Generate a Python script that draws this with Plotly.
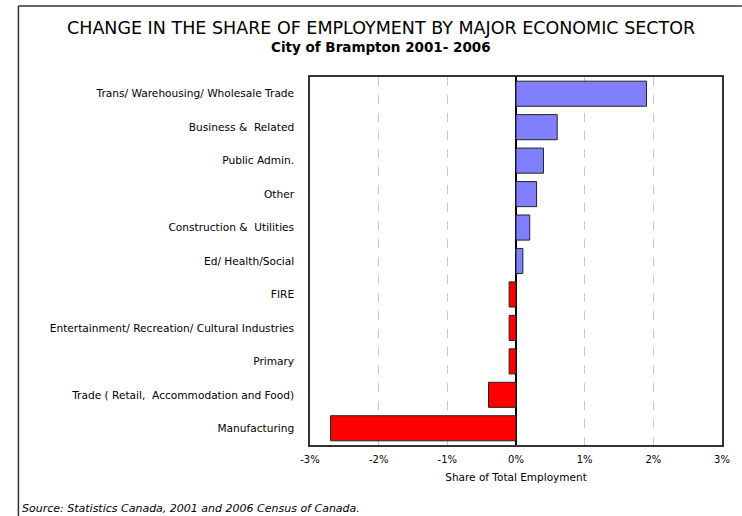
import plotly.graph_objects as go

# Sectors, top to bottom, and the change in share of total employment (percentage points)
sectors = [
    "Trans/ Warehousing/ Wholesale Trade",
    "Business &  Related",
    "Public Admin.",
    "Other",
    "Construction &  Utilities",
    "Ed/ Health/Social",
    "FIRE",
    "Entertainment/ Recreation/ Cultural Industries",
    "Primary",
    "Trade ( Retail,  Accommodation and Food)",
    "Manufacturing",
]
change_pct = [1.9, 0.6, 0.4, 0.3, 0.2, 0.1, -0.1, -0.1, -0.1, -0.4, -2.7]
tick_vals = [-3, -2, -1, 0, 1, 2, 3]
tick_text = ["-3%", "-2%", "-1%", "0%", "1%", "2%", "3%"]

W, H = 742, 516
ML, MR, MT, MB = 310, 18, 77, 71
PW, PH = W - ML - MR, H - MT - MB


def px(x):
    return (x - ML) / PW


def py(y):
    return (H - MB - y) / PH


FONT = "'DejaVu Sans', sans-serif"
colors = ["#8080FF" if v >= 0 else "#FF0000" for v in change_pct]

fig = go.Figure(
    go.Bar(
        x=change_pct,
        y=sectors,
        orientation="h",
        marker=dict(color=colors, line=dict(color="#222222", width=1)),
        width=0.75,
        hoverinfo="x+y",
    )
)

fig.update_layout(
    width=W,
    height=H,
    margin=dict(l=ML, r=MR, t=MT, b=MB, pad=0),
    paper_bgcolor="white",
    plot_bgcolor="white",
    showlegend=False,
    font=dict(family=FONT, color="black", size=10),
    xaxis=dict(
        range=[-3, 3],
        tickvals=tick_vals,
        ticktext=tick_text,
        showgrid=True,
        gridcolor="#C8C8C8",
        griddash="dash",
        gridwidth=1,
        zeroline=True,
        zerolinecolor="black",
        zerolinewidth=1.5,
        showline=True,
        linecolor="#333333",
        linewidth=1.5,
        mirror=True,
        ticks="outside",
        ticklen=4,
        tickcolor="rgba(0,0,0,0)",
        tickfont=dict(size=10),
        title=dict(text="Share of Total Employment", font=dict(size=10.5), standoff=10),
    ),
    yaxis=dict(
        categoryorder="array",
        categoryarray=sectors[::-1],
        range=[-0.5, len(sectors) - 0.5],
        showgrid=False,
        showline=True,
        linecolor="#333333",
        linewidth=1.5,
        mirror=True,
        ticks="outside",
        ticklen=12,
        tickcolor="rgba(0,0,0,0)",
        tickfont=dict(size=10.6),
    ),
    shapes=[
        # outer page frame: top and left edges
        dict(type="line", xref="paper", yref="paper",
             x0=px(17), x1=px(W + 2), y0=py(6), y1=py(6),
             line=dict(color="#333333", width=1.5)),
        dict(type="line", xref="paper", yref="paper",
             x0=px(17), x1=px(17), y0=py(6), y1=py(H + 2),
             line=dict(color="#333333", width=1.5)),
    ],
    annotations=[
        dict(text="CHANGE IN THE SHARE OF EMPLOYMENT BY MAJOR ECONOMIC SECTOR",
             xref="paper", yref="paper", x=px(381), y=py(28),
             showarrow=False, xanchor="center", yanchor="middle",
             font=dict(size=17.5, family=FONT, color="black")),
        dict(text="<b>City of Brampton 2001- 2006</b>",
             xref="paper", yref="paper", x=px(381), y=py(47),
             showarrow=False, xanchor="center", yanchor="middle",
             font=dict(size=13.5, family=FONT, color="black")),
        dict(text="<i>Source: Statistics Canada, 2001 and 2006 Census of Canada.</i>",
             xref="paper", yref="paper", x=px(19), y=py(508),
             showarrow=False, xanchor="left", yanchor="middle",
             font=dict(size=11, family=FONT, color="black")),
    ],
)

fig.write_html("out.html")
